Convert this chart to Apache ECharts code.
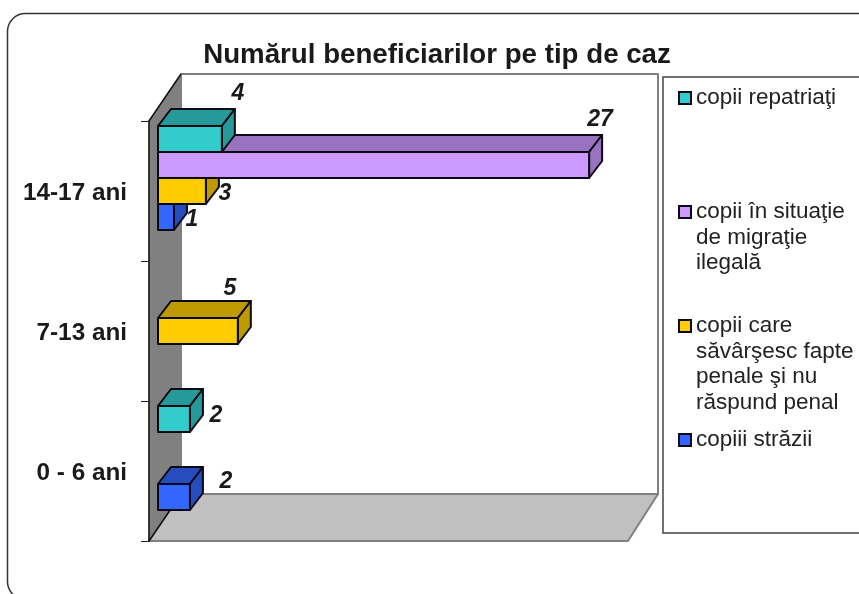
<!DOCTYPE html>
<html>
<head>
<meta charset="utf-8">
<style>
  html, body { margin: 0; padding: 0; background: #fff; }
  #chart { width: 859px; height: 594px; }
</style>
<script src="https://cdn.jsdelivr.net/npm/echarts@6/dist/echarts.min.js"></script>
</head>
<body>
<div id="chart"></div>
<script>
  const categories = ['0 - 6 ani', '7-13 ani', '14-17 ani']
  const seriesNames = ['copiii străzii', 'copii care\nsăvârşesc fapte\npenale şi nu\nrăspund penal', 'copii în situaţie\nde migraţie\nilegală', 'copii repatriaţi']
  const strada = [2, null, 1]
  const penale = [null, 5, 3]
  const migratie = [null, null, 27]
  const repatriati = [2, null, 4]
  const seriesValues = [strada, penale, migratie, repatriati]
  const maxValue = 30

  // front / top-side colours, same order as seriesNames
  const frontColors = ['#3366FF', '#FFCC00', '#CC99FF', '#33CCCC']
  const shadeColors = ['#264CBF', '#BF9900', '#9973BF', '#269999']
  // slot inside a category band, counted from the top
  const slots = [3, 2, 1, 0]
  // label shift from the front top right corner of a bar
  const labelShift = [
    [[36, -2], null, [18, 16]],
    [null, [-8, -29], [19, 16]],
    [null, null, [11, -32]],
    [[26, 10], null, [16, -32]]
  ]
  // y of the first text line of each legend entry
  const legendRows = [440, 326, 212, 98]

  const wallDx = 32
  const wallDxRight = 30
  const wallDy = 47
  const barShiftX = 9
  const barShiftY = 13
  const barDepthX = 13
  const barDepthY = 17
  const barHeight = 26
  const lineHeight = 25.5

  function poly(points, fill, stroke, width) {
    return {
      type: 'polygon',
      shape: { points },
      style: { fill, stroke, lineWidth: width, lineJoin: 'round' }
    }
  }

  function renderWalls(params, api) {
    const tl = api.coord([0, 2])
    const size = api.size([0, 1])
    const x0 = tl[0]
    const y0 = tl[1] - size[1] / 2
    const y1 = y0 + size[1] * 3
    const x1 = api.coord([maxValue, 0])[0]
    return {
      type: 'group',
      children: [
        poly([[x0 + wallDx, y0 - wallDy], [x1 + wallDxRight, y0 - wallDy], [x1 + wallDxRight, y1 - wallDy], [x0 + wallDx, y1 - wallDy]], '#fff', '#808080', 2),
        poly([[x0, y1], [x0 + wallDx, y1 - wallDy], [x1 + wallDxRight, y1 - wallDy], [x1, y1]], '#C0C0C0', '#808080', 2),
        poly([[x0, y0], [x0 + wallDx, y0 - wallDy], [x0 + wallDx, y1 - wallDy], [x0, y1]], '#808080', '#808080', 1),
        { type: 'line', shape: { x1: x0, y1: y0, x2: x0 + wallDx, y2: y0 - wallDy }, style: { stroke: '#111', lineWidth: 1.5 } },
        { type: 'line', shape: { x1: x0, y1: y1, x2: x0 + wallDx, y2: y1 - wallDy }, style: { stroke: '#111', lineWidth: 1.5 } }
      ]
    }
  }

  function renderBar(params, api) {
    const s = params.seriesIndex - 1
    const cat = api.value(1)
    const center = api.coord([0, cat])
    const x0 = center[0] + barShiftX
    const x1 = api.coord([api.value(0), cat])[0] + barShiftX
    const top = center[1] - barShiftY + (slots[s] - 2) * barHeight
    const bottom = top + barHeight
    const shift = labelShift[s][cat]
    const dx = barDepthX
    const dy = barDepthY
    return {
      type: 'group',
      children: [
        poly([[x0, top], [x0 + dx, top - dy], [x1 + dx, top - dy], [x1, top]], shadeColors[s], '#0a0a14', 2),
        poly([[x1, top], [x1 + dx, top - dy], [x1 + dx, bottom - dy], [x1, bottom]], shadeColors[s], '#0a0a14', 2),
        poly([[x0, top], [x1, top], [x1, bottom], [x0, bottom]], frontColors[s], '#0a0a14', 2),
        {
          type: 'text',
          z2: 20,
          style: {
            x: x1 + shift[0],
            y: top + shift[1],
            text: String(api.value(0)),
            align: 'center',
            verticalAlign: 'middle',
            font: 'italic bold 23px "Liberation Sans", Arial, sans-serif',
            fill: '#1a1a1a'
          }
        }
      ]
    }
  }

  const barSeries = seriesNames.map(function (name, s) {
    const rows = []
    seriesValues[s].forEach(function (v, cat) {
      if (v !== null) rows.push([v, cat])
    })
    return {
      name,
      type: 'custom',
      coordinateSystem: 'cartesian2d',
      renderItem: renderBar,
      itemStyle: { color: frontColors[s], borderColor: '#0a0a14', borderWidth: 2 },
      encode: { x: 0, y: 1 },
      z: 3 + s,
      data: rows
    }
  })

  // blank lines above the name keep the icon level with the first text line
  const legends = seriesNames.map(function (name, s) {
    const lines = name.split('\n').length
    return {
      left: 678,
      top: legendRows[s] - (2 * lines - 1) * lineHeight / 2,
      icon: 'rect',
      itemWidth: 12,
      itemHeight: 12,
      itemGap: 0,
      padding: 0,
      selectedMode: false,
      data: [name],
      formatter: function (n) {
        return ' \n'.repeat(lines - 1) + n
      },
      textStyle: {
        color: '#222',
        fontFamily: '"Liberation Sans", Arial, sans-serif',
        fontSize: 22.5,
        lineHeight
      }
    }
  })

  const chart = echarts.init(document.getElementById('chart'))
  chart.setOption({
    backgroundColor: '#fff',
    animation: false,
    title: {
      text: 'Numărul beneficiarilor pe tip de caz',
      left: 432,
      top: 36,
      textAlign: 'center',
      textStyle: {
        color: '#1a1a1a',
        fontFamily: '"Liberation Sans", Arial, sans-serif',
        fontWeight: 'bold',
        fontSize: 27.7
      }
    },
    graphic: [
      {
        type: 'rect',
        silent: true,
        z: -1,
        shape: { x: 7.5, y: 13.5, width: 868, height: 586, r: 18 },
        style: { fill: '#fff', stroke: '#333', lineWidth: 1.5 }
      },
      {
        type: 'rect',
        silent: true,
        z: -1,
        shape: { x: 663, y: 77, width: 220, height: 456 },
        style: { fill: '#fff', stroke: '#444', lineWidth: 1.5 }
      }
    ],
    legend: legends,
    grid: { left: 149, top: 121, width: 479, height: 420, containLabel: false },
    xAxis: {
      type: 'value',
      min: 0,
      max: maxValue,
      show: false,
      splitLine: { show: false }
    },
    yAxis: {
      type: 'category',
      data: categories,
      z: 10,
      axisLine: { show: true, lineStyle: { color: '#111', width: 1.5 } },
      axisTick: { show: true, alignWithLabel: false, length: 8, lineStyle: { color: '#222', width: 1 } },
      axisLabel: {
        margin: 22,
        formatter: '{a|{value}}',
        rich: {
          a: {
            color: '#1a1a1a',
            fontFamily: '"Liberation Sans", Arial, sans-serif',
            fontWeight: 'bold',
            fontSize: 24.3,
            padding: [4, 0, 0, 0]
          }
        }
      }
    },
    series: [
      {
        type: 'custom',
        coordinateSystem: 'cartesian2d',
        renderItem: renderWalls,
        silent: true,
        z: 1,
        data: [[0, 0]]
      }
    ].concat(barSeries)
  })
</script>
</body>
</html>
